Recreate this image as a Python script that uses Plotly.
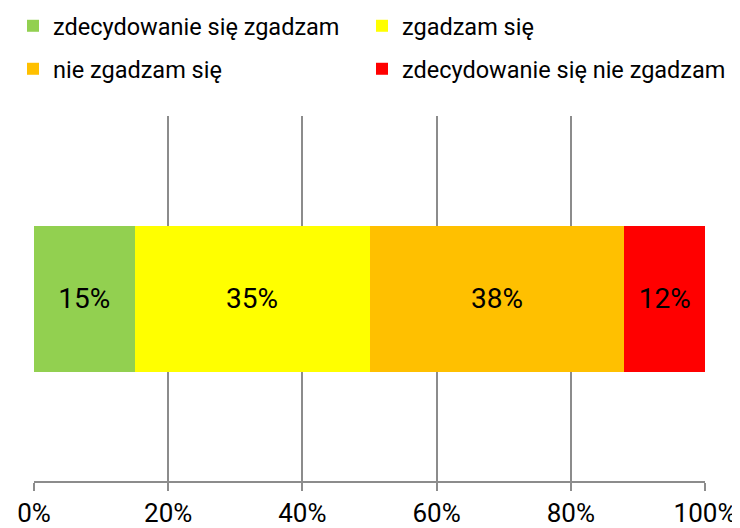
import plotly.graph_objects as go

categories = ["zdecydowanie się zgadzam", "zgadzam się", "nie zgadzam się", "zdecydowanie się nie zgadzam"]
values = [15, 35, 38, 12]
colors = ["#92D050", "#FFFF00", "#FFC000", "#FF0000"]
tick_vals = [0, 20, 40, 60, 80, 100]
tick_text = ["0%", "20%", "40%", "60%", "80%", "100%"]

font_name = "Roboto, sans-serif"
grid = "#8c8c8c"

# the page body adds an 8px margin, so the figure is 8px smaller each way
W, H = 732, 520

# one legend per entry so the 2x2 grid sits where the original has it
legend_ids = ["legend", "legend2", "legend3", "legend4"]
legend_x = [5, 354, 5, 354]
legend_y = [18, 18, 61, 61]

fig = go.Figure()
for name, v, c, lg in zip(categories, values, colors, legend_ids):
    fig.add_trace(go.Bar(
        x=[v], y=[0], name=name, orientation="h",
        marker=dict(color=c, line=dict(width=0)),
        width=0.4,
        text=[f"{v}%"], textposition="inside", insidetextanchor="middle",
        textangle=0, constraintext="none",
        textfont=dict(size=28, color="black", family=font_name),
        legend=lg, showlegend=True,
    ))

legends = {}
for lg, lx, ly in zip(legend_ids, legend_x, legend_y):
    legends[lg] = dict(
        xref="container", yref="container",
        x=lx / W, y=1 - ly / H, xanchor="left", yanchor="middle",
        font=dict(size=23.5, color="black", family=font_name),
        bgcolor="rgba(0,0,0,0)", itemclick=False, itemdoubleclick=False,
    )

fig.update_layout(
    barmode="stack",
    width=W, height=H,
    showlegend=True,
    margin=dict(l=26, r=35, t=108, b=47, autoexpand=False),
    paper_bgcolor="white", plot_bgcolor="white",
    font=dict(family=font_name, color="black"),
    xaxis=dict(
        range=[0, 100], tickvals=tick_vals, ticktext=tick_text,
        showgrid=True, gridcolor=grid, gridwidth=2,
        showline=True, linecolor=grid, linewidth=2,
        ticks="outside", ticklen=8, tickwidth=2, tickcolor=grid,
        tickfont=dict(size=26, color="black", family=font_name),
        zeroline=False, fixedrange=True, automargin=False,
    ),
    yaxis=dict(
        range=[-0.5, 0.5], showgrid=False, zeroline=False,
        showticklabels=False, showline=False, fixedrange=True,
        automargin=False,
    ),
    **legends,
)

fig.write_html("out.html")
